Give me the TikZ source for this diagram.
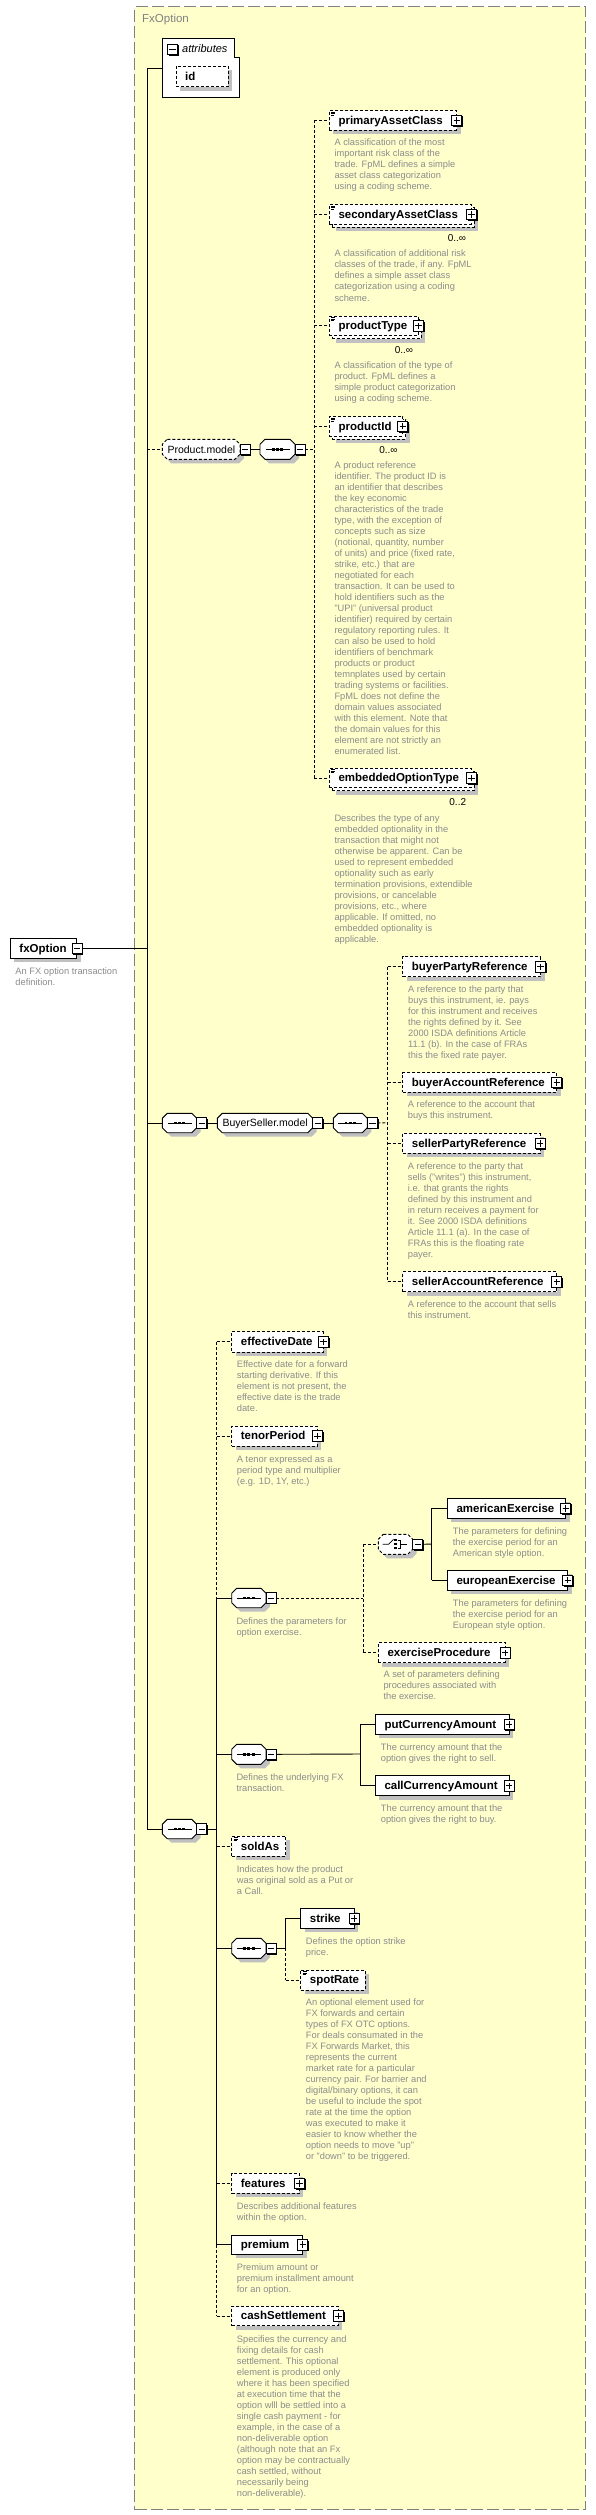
\documentclass[tikz,border=0pt]{standalone}
\usepackage{fontspec}
\setmainfont{Liberation Sans}
\usetikzlibrary{calc,shadows}
\definecolor{bgyel}{RGB}{255,255,204}
\definecolor{framegray}{RGB}{128,128,128}
\definecolor{desccol}{RGB}{140,140,140}
\definecolor{shgray}{RGB}{192,192,192}
\newcommand\lblfont{\fontsize{11.5}{13}\selectfont\bfseries}
\newcommand\nlblfont{\fontsize{10.5}{12}\selectfont}
\newcommand\descfont{\fontsize{9.3}{11}\selectfont}
\newcommand\multfont{\fontsize{10}{12}\selectfont}
% element box: name, x, y, w, h, style, label
\newcommand\xelem[7]{%
  \fill[shgray] (#2+4,#3+4) rectangle ++(#4,#5);
  \node[elbox,#6,minimum width=#4pt,minimum height=#5pt,anchor=north west] (#1) at (#2,#3) {};
  \node[lbl,anchor=base west] (#1-t) at ([xshift=9pt,yshift=-3.8pt]#1.west) {#7};}
% multiple-occurrence element box
\newcommand\xmelem[7]{%
  \fill[shgray] (#2+7,#3+7) rectangle ++(#4,#5);
  \node[elbox,#6,minimum width=#4pt,minimum height=#5pt,anchor=north west] (#1-b) at (#2+3,#3+3) {};
  \node[elbox,#6,minimum width=#4pt,minimum height=#5pt,anchor=north west] (#1) at (#2,#3) {};
  \node[lbl,anchor=base west] (#1-t) at ([xshift=9pt,yshift=-3.8pt]#1.west) {#7};}
% octagon: name, x, y, w, h, style
\newcommand\xoct[6]{%
  \node[inner sep=0pt,outer sep=0pt,minimum width=#4pt,minimum height=#5pt,anchor=north west] (#1) at (#2,#3) {};
  \begin{scope}[shift={(#2+4,#3+4)}]
    \fill[shgray] (5,0) -- (#4-5,0) -- (#4,5) -- (#4,#5-5) -- (#4-5,#5) -- (5,#5) -- (0,#5-5) -- (0,5) -- cycle;
  \end{scope}
  \begin{scope}[shift={(#2,#3)}]
    \draw[ln,fill=white,#6] (5,0) -- (#4-5,0) -- (#4,5) -- (#4,#5-5) -- (#4-5,#5) -- (5,#5) -- (0,#5-5) -- (0,5) -- cycle;
  \end{scope}}
% description: name, x, first line centre y, text
\newcommand\xdesc[4]{\node[desc] (#1) at (#2,#3-4.6) {\strut #4};}
\newcommand\xplus[1]{\node[plusbox] (#1-p) at (#1.east) {};}
\newcommand\xominus[1]{\node[minusbox] (#1-m) at ([xshift=5pt]#1.east) {};}
\newcommand\xmult[2]{\node[mult] (#1-n) at ([xshift=-5pt,yshift=-37pt]#1.north east) {#2};}
\newcommand\xsicon[1]{\draw[line width=0.5pt]
  ([xshift=1.8pt,yshift=-1.4pt]#1.north west) -- ++(4.2,0)
  ([xshift=1.8pt,yshift=-2.9pt]#1.north west) -- ++(4.2,0)
  ([xshift=1.8pt,yshift=-4.4pt]#1.north west) -- ++(3.2,0);}
\newcommand\xseq[1]{%
  \draw[line width=0.8pt] ([xshift=-12pt]#1.center) -- ([xshift=12pt]#1.center);
  \foreach \d in {-4.3,0,4.3} \fill ([xshift=\d pt]#1.center) +(-1.4pt,-1.4pt) rectangle +(1.4pt,1.4pt);}
\newcommand\xchoice[1]{%
  \draw[line width=0.8pt] ($(#1.center)+(-13,0)$) -- ($(#1.center)+(-7,0)$) -- ($(#1.center)+(-2,-5)$);
  \foreach \d in {-4,0,4} \fill ($(#1.center)+(0,\d)$) +(-1.1pt,-1.1pt) rectangle +(1.1pt,1.1pt);
  \draw[line width=0.8pt] ($(#1.center)+(2,-4)$) -- ($(#1.center)+(4.5,-4)$) -- ($(#1.center)+(4.5,4)$) -- ($(#1.center)+(2,4)$)
    ($(#1.center)+(4.5,0)$) -- ($(#1.center)+(11,0)$);}
\begin{document}
\begin{tikzpicture}[x=1pt,y=-1pt,
  ln/.style={line width=0.9pt},
  dsh/.style={dash pattern=on 3pt off 2pt},
  elbox/.style={draw,fill=white,line width=0.9pt,inner sep=0pt,outer sep=0pt},
  lbl/.style={inner sep=0pt,font=\lblfont},
  nlbl/.style={inner sep=0pt,font=\nlblfont},
  desc/.style={inner sep=0pt,align=left,text=desccol,font=\descfont,anchor=north west},
  mult/.style={inner sep=0pt,font=\multfont,anchor=base east},
  pmbox/.style={draw,fill=white,line width=0.7pt,minimum width=10pt,minimum height=10.5pt,inner sep=0pt,outer sep=0pt,
    drop shadow={shadow xshift=1.2pt,shadow yshift=-1.2pt,fill=black,opacity=1}},
  plusbox/.style={pmbox,path picture={\draw[line width=0.8pt]
    ([xshift=-3.2pt]path picture bounding box.center) -- ([xshift=3.2pt]path picture bounding box.center)
    ([yshift=-3.2pt]path picture bounding box.center) -- ([yshift=3.2pt]path picture bounding box.center);}},
  minusbox/.style={pmbox,path picture={\draw[line width=0.8pt]
    ([xshift=-3.2pt]path picture bounding box.center) -- ([xshift=3.2pt]path picture bounding box.center);}}]
\useasboundingbox (0,0) rectangle (596,2515);
\fill[white] (0,0) rectangle (596,2515);
\node[draw=framegray,fill=bgyel,line width=1.1pt,dash pattern=on 12pt off 4pt,minimum width=451pt,minimum height=2503pt,anchor=north west,inner sep=0pt] (grp) at (134,6) {};
\node[inner sep=0pt,font=\fontsize{11.5}{13}\selectfont,text=framegray,anchor=base west] (grp-t) at (142,23) {FxOption};

% root
\xelem{fx}{10.3}{938.7}{66.6}{19.6}{}{fxOption}
\node[minusbox] (fx-m) at (fx.east) {};
\xdesc{fx-d}{15.3}{970.7}{An FX option transaction\\definition.}

% attributes
\draw[ln,fill=white] (162.3,38.3) -- (234.3,38.3) -- (234.3,57.7) -- (239.3,57.7) -- (239.3,97.3) -- (162.3,97.3) -- cycle;
\coordinate (attr) at (162.3,68.3);
\node[minusbox] (attr-m) at (172.3,49.3) {};
\node[inner sep=0pt,font=\fontsize{11}{13}\selectfont\itshape,anchor=base west] (attr-t) at (182,52.3) {attributes};
\xelem{id}{176}{66}{52.3}{20.7}{dsh}{id}
\coordinate (mv) at (147.3,68.3);

% Product.model group
\xoct{pm}{162.3}{439.3}{77.7}{20}{dsh}
\node[nlbl,anchor=base west] (pm-t) at ([xshift=5pt,yshift=-3.7pt]pm.west) {Product.model};
\xominus{pm}
\xoct{pseq}{260}{439.3}{35}{20}{}
\xseq{pseq}
\xominus{pseq}
\coordinate (pv) at (314.3,449.3);

\xelem{pac}{329.3}{110.7}{127.4}{19.3}{dsh}{primaryAssetClass}
\xplus{pac}\xsicon{pac}
\xdesc{pac-d}{334.3}{142.7}{A classification of the most\\important risk class of the\\trade. FpML defines a simple\\asset class categorization\\using a coding scheme.}

\xmelem{sac}{329.3}{204.7}{142}{19.3}{dsh}{secondaryAssetClass}
\xplus{sac}\xsicon{sac}\xmult{sac}{0..∞}
\xdesc{sac-d}{334.3}{253.7}{A classification of additional risk\\classes of the trade, if any. FpML\\defines a simple asset class\\categorization using a coding\\scheme.}

\xmelem{pt}{329.3}{316}{89}{19.5}{dsh}{productType}
\xplus{pt}\xsicon{pt}\xmult{pt}{0..∞}
\xdesc{pt-d}{334.3}{364.7}{A classification of the type of\\product. FpML defines a\\simple product categorization\\using a coding scheme.}

\xmelem{pid}{329.3}{416.5}{73.4}{19.5}{dsh}{productId}
\xplus{pid}\xsicon{pid}\xmult{pid}{0..∞}
\xdesc{pid-d}{334.3}{464.7}{A product reference\\identifier. The product ID is\\an identifier that describes\\the key economic\\characteristics of the trade\\type, with the exception of\\concepts such as size\\(notional, quantity, number\\of units) and price (fixed rate,\\strike, etc.) that are\\negotiated for each\\transaction. It can be used to\\hold identifiers such as the\\"UPI" (universal product\\identifier) required by certain\\regulatory reporting rules. It\\can also be used to hold\\identifiers of benchmark\\products or product\\temnplates used by certain\\trading systems or facilities.\\FpML does not define the\\domain values associated\\with this element. Note that\\the domain values for this\\element are not strictly an\\enumerated list.}

\xmelem{eot}{329.3}{768.3}{142}{19.5}{dsh}{embeddedOptionType}
\xplus{eot}\xsicon{eot}\xmult{eot}{0..2}
\xdesc{eot-d}{334.3}{817.7}{Describes the type of any\\embedded optionality in the\\transaction that might not\\otherwise be apparent. Can be\\used to represent embedded\\optionality such as early\\termination provisions, extendible\\provisions, or cancelable\\provisions, etc., where\\applicable. If omitted, no\\embedded optionality is\\applicable.}

% BuyerSeller group
\xoct{bseq1}{162.3}{1113.3}{34.4}{19.4}{}
\xseq{bseq1}\xominus{bseq1}
\xoct{bsm}{217.3}{1113.3}{95.4}{19.4}{}
\node[nlbl,anchor=base west] (bsm-t) at ([xshift=5pt,yshift=-3.7pt]bsm.west) {BuyerSeller.model};
\xominus{bsm}
\xoct{bseq2}{333.3}{1113.3}{34}{19.4}{}
\xseq{bseq2}\xominus{bseq2}
\coordinate (bv) at (387.7,1122.7);

\xelem{bpr}{402.7}{956.7}{137.8}{20}{dsh}{buyerPartyReference}
\xplus{bpr}
\xdesc{bpr-d}{408}{988.7}{A reference to the party that\\buys this instrument, ie. pays\\for this instrument and receives\\the rights defined by it. See\\2000 ISDA definitions Article\\11.1 (b). In the case of FRAs\\this the fixed rate payer.}
\xelem{bar}{402.7}{1072.7}{154}{19.6}{dsh}{buyerAccountReference}
\xplus{bar}
\xdesc{bar-d}{407.7}{1104.3}{A reference to the account that\\buys this instrument.}
\xelem{spr}{402.7}{1133.3}{137.3}{20}{dsh}{sellerPartyReference}
\xplus{spr}
\xdesc{spr-d}{407.7}{1166}{A reference to the party that\\sells ("writes") this instrument,\\i.e. that grants the rights\\defined by this instrument and\\in return receives a payment for\\it. See 2000 ISDA definitions\\Article 11.1 (a). In the case of\\FRAs this is the floating rate\\payer.}
\xelem{sar}{402.7}{1271.7}{154}{20}{dsh}{sellerAccountReference}
\xplus{sar}
\xdesc{sar-d}{407.7}{1304}{A reference to the account that sells\\this instrument.}

% main sequence
\xoct{bseq3}{162.3}{1819.3}{34.4}{19.4}{}
\xseq{bseq3}\xominus{bseq3}
\coordinate (cv) at (216.7,1829);

\xelem{efd}{231.7}{1331.7}{91.6}{20.3}{dsh}{effectiveDate}
\xplus{efd}
\xdesc{efd-d}{236.7}{1364.3}{Effective date for a forward\\starting derivative. If this\\element is not present, the\\effective date is the trade\\date.}
\xelem{tnp}{231.7}{1426}{85.6}{20}{dsh}{tenorPeriod}
\xplus{tnp}
\xdesc{tnp-d}{236.7}{1459}{A tenor expressed as a\\period type and multiplier\\(e.g. 1D, 1Y, etc.)}

\xoct{exseq}{231.7}{1588.3}{34.3}{19.4}{}
\xseq{exseq}\xominus{exseq}
\xdesc{exseq-d}{236.3}{1620.7}{Defines the parameters for\\option exercise.}
\coordinate (xv) at (363.3,1598);
\xoct{ch}{378.3}{1534.3}{34.4}{20}{dsh}
\xchoice{ch}\xominus{ch}
\coordinate (chv) at (431.7,1544);
\xelem{ame}{447.3}{1498.3}{118.4}{20}{}{americanExercise}
\xplus{ame}
\xdesc{ame-d}{452.7}{1531}{The parameters for defining\\the exercise period for an\\American style option.}
\xelem{eue}{447.3}{1570}{120.4}{20.4}{}{europeanExercise}
\xplus{eue}
\xdesc{eue-d}{452.7}{1602.7}{The parameters for defining\\the exercise period for an\\European style option.}
\xelem{exp}{378.3}{1642.7}{126.7}{20}{dsh}{exerciseProcedure}
\xplus{exp}
\xdesc{exp-d}{383.3}{1674.3}{A set of parameters defining\\procedures associated with\\the exercise.}

\xoct{fxseq}{231.7}{1744.3}{34.3}{20}{}
\xseq{fxseq}\xominus{fxseq}
\xdesc{fxseq-d}{236.3}{1776.7}{Defines the underlying FX\\transaction.}
\coordinate (fv) at (360.7,1754);
\xelem{pca}{375.3}{1714.3}{133.7}{20}{}{putCurrencyAmount}
\xplus{pca}
\xdesc{pca-d}{380.7}{1746.7}{The currency amount that the\\option gives the right to sell.}
\xelem{cca}{375.3}{1775.7}{133.7}{20}{}{callCurrencyAmount}
\xplus{cca}
\xdesc{cca-d}{380.7}{1807.7}{The currency amount that the\\option gives the right to buy.}

\xelem{sld}{231.7}{1836}{54}{20.4}{dsh}{soldAs}
\xsicon{sld}
\xdesc{sld-d}{236.7}{1869}{Indicates how the product\\was original sold as a Put or\\a Call.}

\xoct{ssseq}{231.7}{1938.3}{34.3}{20}{}
\xseq{ssseq}\xominus{ssseq}
\coordinate (sv) at (285.7,1948.3);
\xelem{stk}{300.7}{1908.3}{53.3}{20}{}{strike}
\xplus{stk}
\xdesc{stk-d}{305.7}{1941}{Defines the option strike\\price.}
\xelem{spt}{300.7}{1970}{64.3}{20}{dsh}{spotRate}
\xsicon{spt}
\xdesc{spt-d}{305.7}{2001.7}{An optional element used for\\FX forwards and certain\\types of FX OTC options.\\For deals consumated in the\\FX Forwards Market, this\\represents the current\\market rate for a particular\\currency pair. For barrier and\\digital/binary options, it can\\be useful to include the spot\\rate at the time the option\\was executed to make it\\easier to know whether the\\option needs to move "up"\\or "down" to be triggered.}

\xelem{fea}{231.7}{2173.3}{67.6}{20}{dsh}{features}
\xplus{fea}
\xdesc{fea-d}{236.7}{2206}{Describes additional features\\within the option.}
\xelem{prm}{231.7}{2235}{71}{19.3}{}{premium}
\xplus{prm}
\xdesc{prm-d}{236.7}{2266.7}{Premium amount or\\premium installment amount\\for an option.}
\xelem{csh}{231.7}{2306.2}{106.6}{19.5}{dsh}{cashSettlement}
\xplus{csh}
\xdesc{csh-d}{236.7}{2338.7}{Specifies the currency and\\fixing details for cash\\settlement. This optional\\element is produced only\\where it has been specified\\at execution time that the\\option wlll be settled into a\\single cash payment - for\\example, in the case of a\\non-deliverable option\\(although note that an Fx\\option may be contractually\\cash settled, without\\necessarily being\\non-deliverable).}

% ---- connectors ----
\draw[ln] (attr) -- (mv) -- (bseq3.west -| mv);
\draw[ln] (fx-m.east) -- (fx-m.east -| mv);
\draw[ln,dsh] (pm.west -| mv) -- (pm.west);
\draw[ln] (pm-m.east) -- (pseq.west);
\draw[ln,dsh] (pseq-m.east) -- (pv);
\draw[ln,dsh] (pac.west -| pv) -- (eot.west -| pv);
\foreach \n in {pac,sac,pt,pid,eot} \draw[ln,dsh] (\n.west -| pv) -- (\n.west);

\draw[ln] (bseq1.west -| mv) -- (bseq1.west);
\draw[ln] (bseq1-m.east) -- (bsm.west);
\draw[ln] (bsm-m.east) -- (bseq2.west);
\draw[ln,dsh] (bseq2-m.east) -- (bv);
\draw[ln,dsh] (bpr.west -| bv) -- (sar.west -| bv);
\foreach \n in {bpr,bar,spr,sar} \draw[ln,dsh] (\n.west -| bv) -- (\n.west);

\draw[ln] (bseq3.west -| mv) -- (bseq3.west);
\draw[ln] (bseq3-m.east) -- (cv);
\draw[ln,dsh] (efd.west -| cv) -- (exseq.west -| cv);
\draw[ln] (exseq.west -| cv) -- (prm.west -| cv);
\draw[ln,dsh] (prm.west -| cv) -- (csh.west -| cv);
\foreach \n in {efd,tnp,sld,fea,csh} \draw[ln,dsh] (\n.west -| cv) -- (\n.west);
\foreach \n in {exseq,fxseq,ssseq,prm} \draw[ln] (\n.west -| cv) -- (\n.west);

\draw[ln,dsh] (exseq-m.east) -- (xv);
\draw[ln,dsh] (ch.west -| xv) -- (exp.west -| xv);
\draw[ln,dsh] (ch.west -| xv) -- (ch.west);
\draw[ln,dsh] (exp.west -| xv) -- (exp.west);
\draw[ln] (ch-m.east) -- (chv);
\draw[ln] (ame.west -| chv) -- (eue.west -| chv);
\draw[ln] (ame.west -| chv) -- (ame.west);
\draw[ln] (eue.west -| chv) -- (eue.west);

\draw[ln] (fxseq-m.east) -- (fv);
\draw[ln] (pca.west -| fv) -- (cca.west -| fv);
\draw[ln] (pca.west -| fv) -- (pca.west);
\draw[ln] (cca.west -| fv) -- (cca.west);

\draw[ln] (ssseq-m.east) -- (sv);
\draw[ln] (stk.west -| sv) -- (sv);
\draw[ln,dsh] (sv) -- (spt.west -| sv);
\draw[ln] (stk.west -| sv) -- (stk.west);
\draw[ln,dsh] (spt.west -| sv) -- (spt.west);
\end{tikzpicture}
\end{document}
